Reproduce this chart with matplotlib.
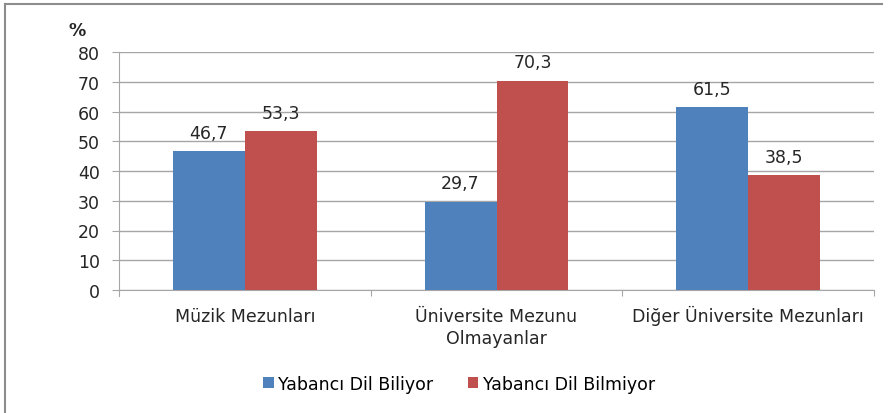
import matplotlib
matplotlib.use("Agg")
import matplotlib.pyplot as plt
from matplotlib.patches import Patch
from matplotlib.lines import Line2D
import numpy as np

CATEGORIES = ["Müzik Mezunları", "Üniversite Mezunu\nOlmayanlar",
              "Diğer Üniversite Mezunları"]
SERIES = ["Yabancı Dil Biliyor", "Yabancı Dil Bilmiyor"]
KNOWS = [46.7, 29.7, 61.5]
DOESNT = [53.3, 70.3, 38.5]

BLUE, RED = "#4f81bd", "#c0504d"
GRID, INK = "#a6a6a6", "#262626"
FS = 12.5

plt.rcParams["font.family"] = ["DejaVu Sans"]

W, H = 891, 414
fig = plt.figure(figsize=(W / 100, H / 100), dpi=100)

# outer chart frame (top and left edges only are visible in the reference)
fig.add_artist(Line2D([5 / W, 882 / W], [1 - 5 / H, 1 - 5 / H],
                      transform=fig.transFigure, color="#8c8c8c", lw=1.5))
fig.add_artist(Line2D([5 / W, 5 / W], [0, 1 - 5 / H],
                      transform=fig.transFigure, color="#8c8c8c", lw=1.5))

ax = fig.add_axes([119 / W, 1 - 291 / H, (874 - 119) / W, (291 - 53) / H])

x = np.arange(len(CATEGORIES))
bw = 0.286
b1 = ax.bar(x - bw / 2, KNOWS, bw, color=BLUE, zorder=3)
b2 = ax.bar(x + bw / 2, DOESNT, bw, color=RED, zorder=3)
for bars, vals in ((b1, KNOWS), (b2, DOESNT)):
    for r, v in zip(bars, vals):
        ax.text(r.get_x() + r.get_width() / 2, v + 4.5,
                f"{v:.1f}".replace(".", ","), ha="center", va="baseline",
                fontsize=FS, color=INK)

ax.set_xlim(-0.5, 2.5)
ax.set_ylim(0, 80)
ax.set_yticks(range(0, 81, 10))
ax.yaxis.grid(True, color=GRID, lw=1)
ax.set_axisbelow(True)
for s in ("top", "right"):
    ax.spines[s].set_visible(False)
ax.spines["left"].set_color(GRID)
ax.spines["bottom"].set_color(GRID)
ax.spines["left"].set_bounds(-2, 80)
ax.tick_params(axis="y", length=5.4, color=GRID, labelsize=FS,
               labelcolor=INK, pad=8.5)

# category labels centred, tick marks on group boundaries
ax.set_xticks([0.5, 1.5, 2.5])
ax.set_xticklabels([])
ax.tick_params(axis="x", length=4, color=GRID, direction="out")
PX = 80 / 238   # data units per pixel on the y axis
for i, c in enumerate(CATEGORIES):
    # one text per line so every first line shares the same baseline
    for k, line in enumerate(c.split("\n")):
        ax.text(i, -(31 + 22 * k) * PX, line, ha="center", va="baseline",
                fontsize=FS, color=INK, clip_on=False)

ax.text(-42 / 755, 1 + 22 / 238, "%", transform=ax.transAxes,
        ha="center", va="center", fontsize=FS, fontweight="bold",
        color=INK)

fig.legend(handles=[Patch(fc=BLUE, label=SERIES[0]),
                    Patch(fc=RED, label=SERIES[1])],
           loc="center", bbox_to_anchor=(459 / W, 1 - 385 / H), ncol=2,
           frameon=False, fontsize=FS, handlelength=0.6, handleheight=0.6,
           handletextpad=0.25, columnspacing=2.0)

fig.savefig("out.png", dpi=100)
